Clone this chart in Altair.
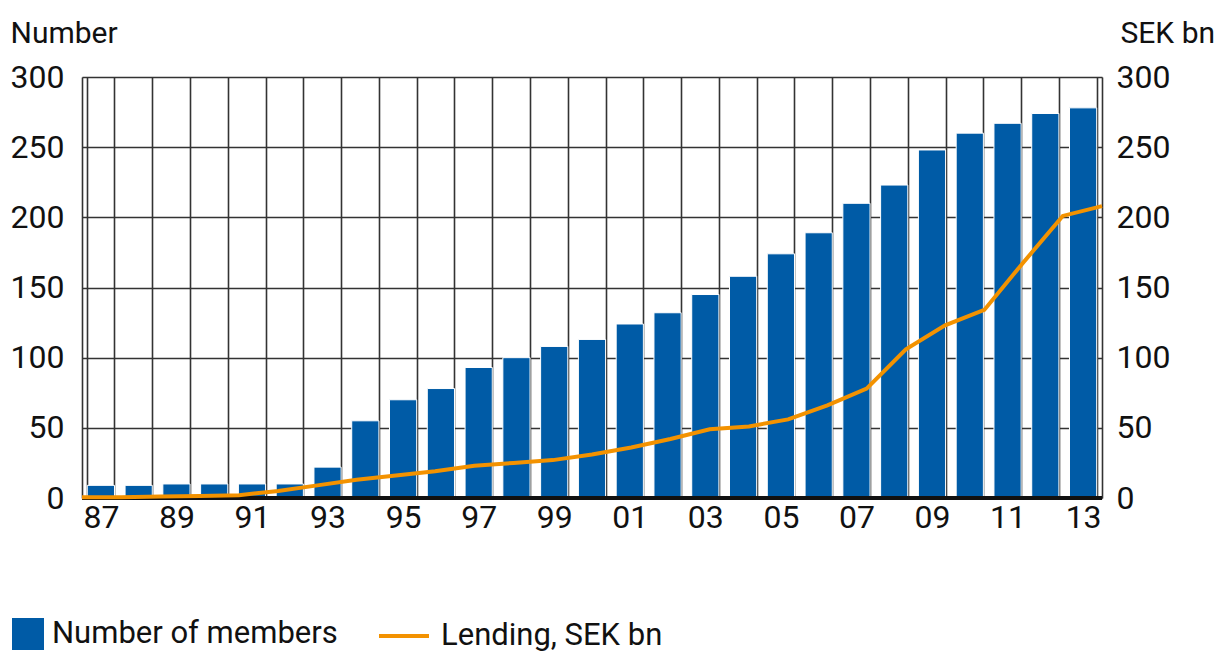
import altair as alt
import pandas as pd

years = list(range(1987, 2014))
members = [9, 9, 10, 10, 10, 10, 22, 55, 70, 78, 93, 100, 108, 113, 124, 132, 145, 158, 174, 189, 210, 223, 248, 260, 267, 274, 278]
lending = [0.5, 0.5, 1, 1.5, 2, 5, 9, 13, 16, 19, 23, 25, 27, 31, 36, 42, 49, 51, 56, 66, 78, 106, 123, 134, 168, 201, 208]

BLUE = "#005BA6"
ORANGE = "#F39200"
FONT = "Roboto"

df = pd.DataFrame({"year": [str(y) for y in years], "yearnum": years,
                   "members": members, "lending": lending})

bars = alt.Chart(df).mark_bar(stroke="white", strokeWidth=1).encode(
    x=alt.X("year:O", title=None,
            scale=alt.Scale(paddingInner=0.28, paddingOuter=0.14),
            axis=alt.Axis(tickBand="extent", grid=True, ticks=False,
                          labelExpr="parseInt(datum.value) % 2 == 1 ? slice(datum.value, 2) : ''",
                          labelAngle=0, labelFont=FONT, labelFontSize=32,
                          labelColor="#111", labelPadding=4,
                          gridColor="#333", gridWidth=1.6, gridOpacity=1,
                          domain=False)),
    y=alt.Y("members:Q", scale=alt.Scale(domain=[0, 300]),
            axis=alt.Axis(values=[0, 50, 100, 150, 200, 250, 300], title="Number",
                          titleAngle=0, titleAlign="left", titleBaseline="alphabetic",
                          titleX=-72, titleY=-35, titleFont=FONT, titleFontSize=30,
                          titleFontWeight="normal", titleColor="#111",
                          labelFont=FONT, labelFontSize=32, labelColor="#111",
                          labelPadding=18, ticks=False, domain=True,
                          domainColor="#333", domainWidth=1.6,
                          gridColor="#333", gridWidth=1.6, gridOpacity=1)),
    fill=alt.Fill("s:N", scale=alt.Scale(domain=["Number of members"], range=[BLUE]),
                  legend=alt.Legend(title=None, orient="none", legendX=-70, legendY=541,
                                    symbolType="square", symbolSize=1024,
                                    symbolStrokeWidth=0, labelFont=FONT,
                                    labelFontSize=31, labelColor="#111",
                                    labelOffset=8, padding=0, labelLimit=0)),
).transform_calculate(s="'Number of members'")

baseline = alt.Chart(df).mark_rule(color="#111", strokeWidth=4).encode(
    y=alt.Y(datum=0, scale=alt.Scale(domain=[0, 300]), axis=None)
)

line = alt.Chart(df).mark_line(color=ORANGE, strokeWidth=4).encode(
    x=alt.X("yearnum:Q", scale=alt.Scale(domain=[1987, 2013], nice=False, zero=False), axis=None),
    y=alt.Y("lending:Q", scale=alt.Scale(domain=[0, 300]),
            axis=alt.Axis(values=[0, 50, 100, 150, 200, 250, 300], orient="right",
                          title="SEK bn", titleAngle=0, titleAlign="left",
                          titleBaseline="alphabetic", titleX=18, titleY=-35,
                          titleFont=FONT, titleFontSize=30, titleFontWeight="normal",
                          titleColor="#111", labelFont=FONT, labelFontSize=32,
                          labelColor="#111", labelPadding=14, ticks=False,
                          domain=True, domainColor="#333", domainWidth=1.6, grid=False)),
    stroke=alt.Stroke("s:N", scale=alt.Scale(domain=["Lending, SEK bn"], range=[ORANGE]),
                      legend=alt.Legend(title=None, orient="none", legendX=295, legendY=532,
                                        symbolType="stroke", symbolSize=2500,
                                        symbolStrokeWidth=4, labelFont=FONT,
                                        labelFontSize=31, labelColor="#111",
                                        labelOffset=10, padding=0, labelLimit=0)),
).transform_calculate(s="'Lending, SEK bn'")

chart = alt.layer(bars, baseline, line).resolve_scale(
    x="independent", y="independent", fill="independent", stroke="independent"
).properties(
    width=1020, height=421,
    padding={"left": 10, "top": 18, "right": 3, "bottom": 5},
).configure_view(stroke="#333", strokeWidth=1.6).configure(background="white")

chart.save("out.html", embed_options={"renderer": "svg", "actions": False})
